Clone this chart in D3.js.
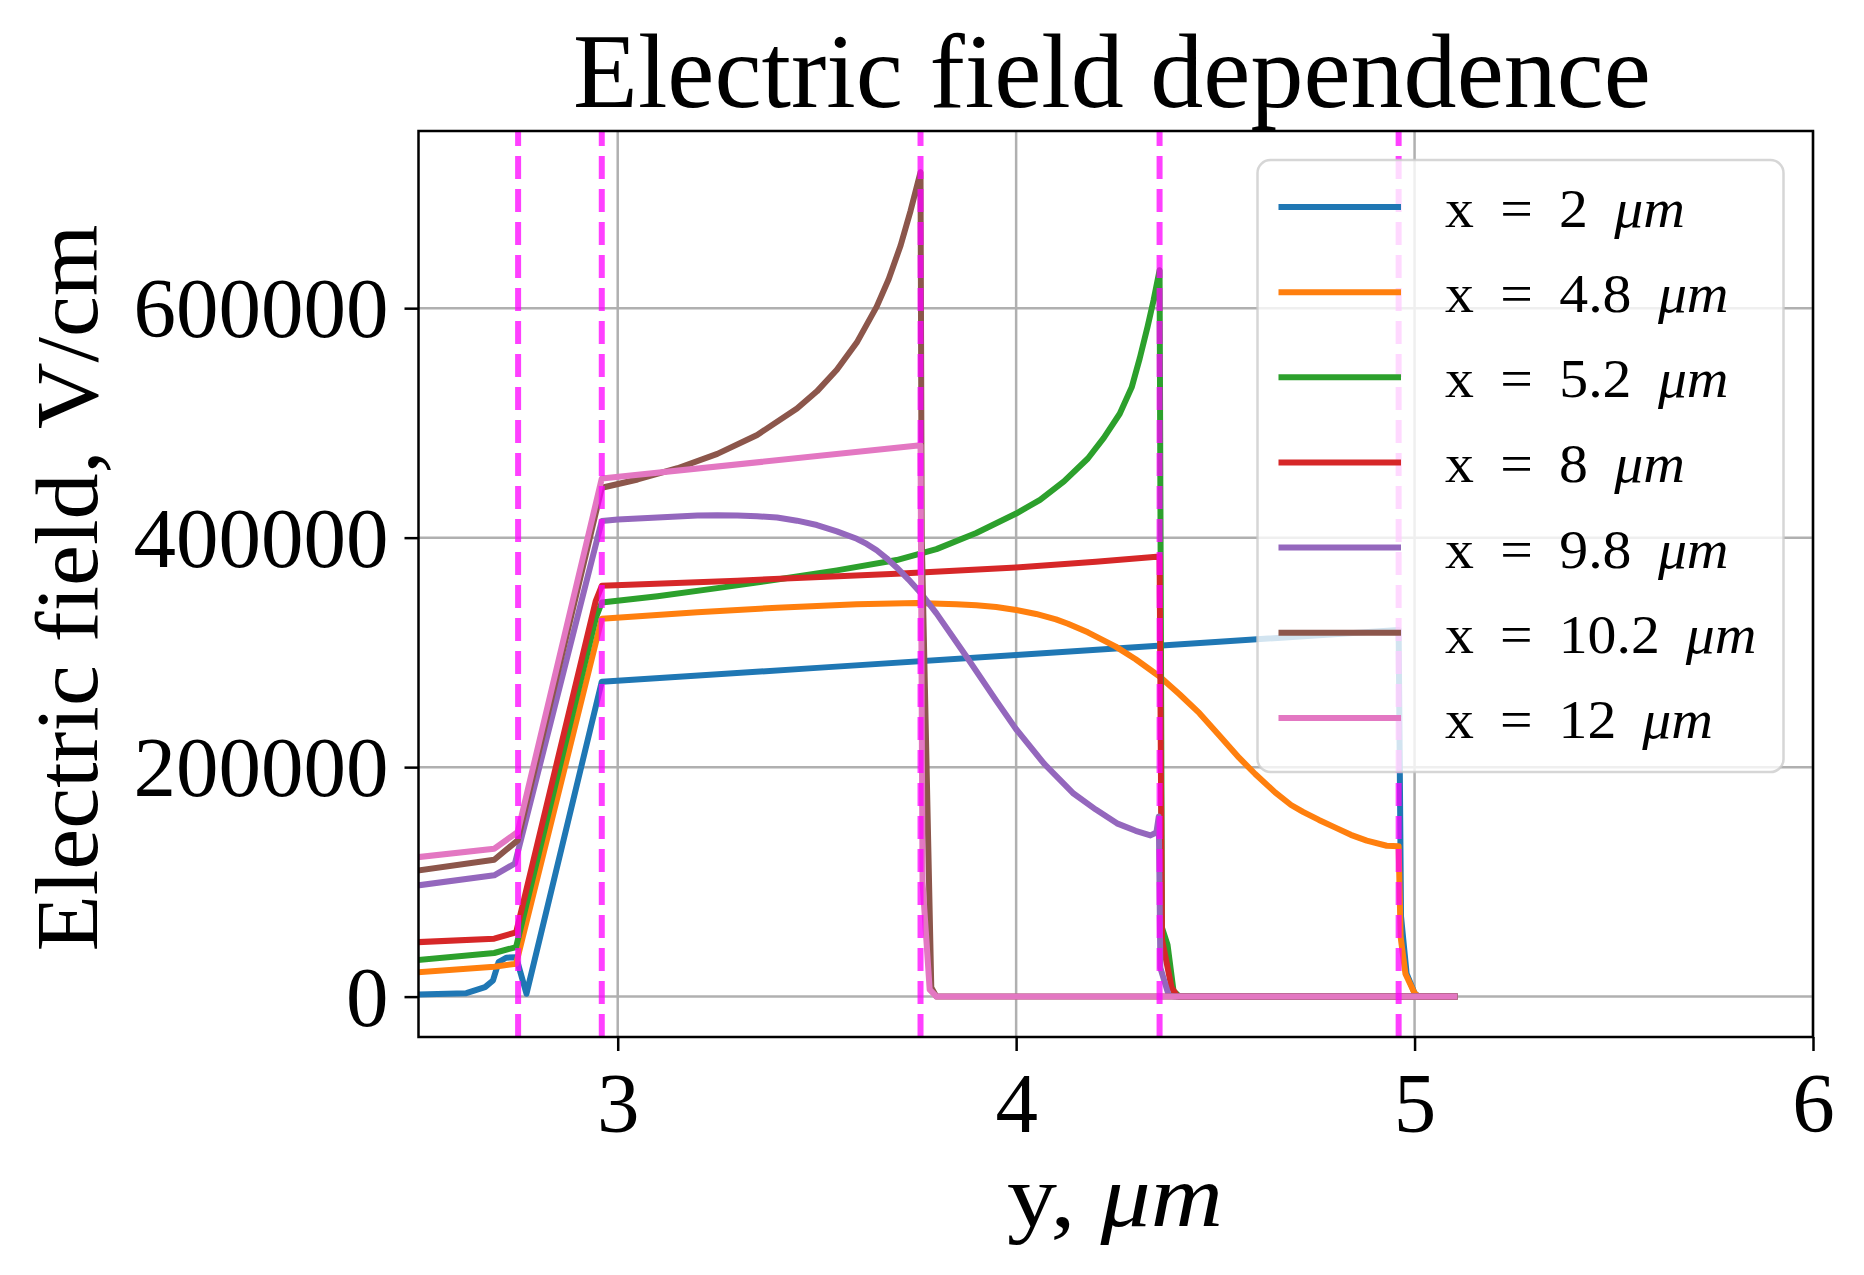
<!DOCTYPE html>
<html><head><meta charset="utf-8">
<script src="https://cdn.jsdelivr.net/npm/d3@7"></script>
<style>body{margin:0;background:#fff}</style>
</head><body>
<svg id="chart" width="1864" height="1275" xmlns="http://www.w3.org/2000/svg"></svg>
<script>
// ---------------- data ----------------
const seriesLabels = ["2", "4.8", "5.2", "8", "9.8", "10.2", "12"];
const seriesColors = ["#1f77b4", "#ff7f0e", "#2ca02c", "#d62728", "#9467bd", "#8c564b", "#e377c2"];
const boundaries = [2.75, 2.96, 3.76, 4.36, 4.96];
const xTicks = [3, 4, 5, 6];
const yTicks = [0, 200000, 400000, 600000];

// [y (µm), E (V/cm)]
const fieldX2 = [[2.5,1800],[2.62,3000],[2.667,8300],[2.687,14100],[2.701,30000],[2.72,33900],[2.745,34400],[2.771,2500],[2.96,274500],[3.5,286500],[4.0,297800],[4.5,309000],[4.96,319500],[4.966,70000],[4.98,20000],[5.0,3000],[5.01,0],[5.1,0]];
const fieldX48 = [[2.5,21300],[2.69,26000],[2.745,28700],[2.96,329400],[3.2,335000],[3.4,339000],[3.6,342000],[3.75,343000],[3.85,342000],[3.9,341000],[3.95,339500],[4.0,337000],[4.05,333500],[4.1,328800],[4.13,325000],[4.18,317500],[4.25,305000],[4.3,294000],[4.36,279000],[4.41,263500],[4.46,247000],[4.51,227500],[4.56,208000],[4.6,194000],[4.65,178000],[4.69,167000],[4.72,161000],[4.76,154000],[4.8,147500],[4.84,141000],[4.88,136000],[4.93,131500],[4.96,131000],[4.965,52000],[4.977,20000],[5.0,3000],[5.01,0],[5.1,0]];
const fieldX52 = [[2.5,32000],[2.69,38000],[2.745,43200],[2.945,330000],[2.96,343500],[3.1,349000],[3.25,356000],[3.4,363500],[3.55,371500],[3.7,380500],[3.8,390000],[3.9,404000],[4.0,421000],[4.06,433000],[4.12,449000],[4.18,469000],[4.22,487000],[4.26,508000],[4.29,531000],[4.31,556000],[4.33,584000],[4.345,607000],[4.36,633000],[4.366,60000],[4.38,45000],[4.395,5000],[4.41,0],[5.1,0]];
const fieldX8 = [[2.5,47500],[2.69,50500],[2.745,56000],[2.945,345000],[2.96,358000],[3.3,362500],[3.7,368500],[4.0,374000],[4.2,379000],[4.36,383500],[4.366,50000],[4.39,8000],[4.405,0],[5.1,0]];
const fieldX98 = [[2.5,97000],[2.69,105700],[2.742,116000],[2.96,414500],[3.0,415800],[3.05,416700],[3.1,417500],[3.15,418500],[3.2,419200],[3.25,419500],[3.3,419400],[3.35,418700],[3.4,417500],[3.45,414800],[3.5,411000],[3.55,405500],[3.6,399000],[3.625,394500],[3.65,389000],[3.675,382000],[3.7,374000],[3.73,363500],[3.76,352000],[3.8,334000],[3.876,296000],[3.95,258000],[4.0,233000],[4.07,203000],[4.144,177000],[4.2,163000],[4.253,151000],[4.3,144500],[4.337,140500],[4.352,143000],[4.358,157000],[4.362,25000],[4.383,1000],[4.4,0],[5.1,0]];
const fieldX102 = [[2.5,110000],[2.69,119300],[2.749,136200],[2.96,443500],[3.05,450700],[3.15,460500],[3.25,473000],[3.35,489500],[3.45,512500],[3.5,527500],[3.55,546300],[3.6,570000],[3.65,601300],[3.68,625200],[3.71,654600],[3.735,684800],[3.76,718500],[3.763,400000],[3.787,8000],[3.8,0],[5.1,0]];
const fieldX12 = [[2.5,121600],[2.69,128900],[2.749,143400],[2.96,451500],[3.76,480500],[3.765,100000],[3.783,6000],[3.8,0],[5.1,0]];

const seriesData = [fieldX2, fieldX48, fieldX52, fieldX8, fieldX98, fieldX102, fieldX12];

// ---------------- layout ----------------
const L = 418.5, R = 1813, T = 131, B = 1037;
const FONT = "'Liberation Serif', 'DejaVu Serif', serif";
const LW = 6;
const svg = d3.select("#chart");

const x = d3.scaleLinear().domain([2.5, 6]).range([L, R]);
const y = d3.scaleLinear().domain([-35200, 754400]).range([B, T]);

svg.append("rect").attr("width", 1864).attr("height", 1275).attr("fill", "#fff");

svg.append("defs").append("clipPath").attr("id", "plotclip")
  .append("rect").attr("x", L).attr("y", T).attr("width", R - L).attr("height", B - T);

// grid
const grid = svg.append("g");
grid.selectAll("line.gx").data(xTicks).join("line")
  .attr("x1", d => x(d)).attr("x2", d => x(d)).attr("y1", T).attr("y2", B)
  .attr("stroke", "#b0b0b0").attr("stroke-width", 2.5);
grid.selectAll("line.gy").data(yTicks).join("line")
  .attr("y1", d => y(d)).attr("y2", d => y(d)).attr("x1", L).attr("x2", R)
  .attr("stroke", "#b0b0b0").attr("stroke-width", 2.5);

// data lines
const line = d3.line().x(d => x(d[0])).y(d => y(d[1]));
const plot = svg.append("g").attr("clip-path", "url(#plotclip)");
seriesData.forEach((s, i) => {
  plot.append("path").attr("d", line(s)).attr("fill", "none")
    .attr("stroke", seriesColors[i]).attr("stroke-width", LW)
    .attr("stroke-linejoin", "round").attr("stroke-linecap", "square");
});

// boundary lines
plot.selectAll("line.bd").data(boundaries).join("line")
  .attr("x1", d => x(d)).attr("x2", d => x(d)).attr("y1", B).attr("y2", T)
  .attr("stroke", "magenta").attr("stroke-opacity", 0.75).attr("stroke-width", 6)
  .attr("stroke-dasharray", "23 10");

// spines
svg.append("rect").attr("x", L).attr("y", T).attr("width", R - L).attr("height", B - T)
  .attr("fill", "none").attr("stroke", "#000").attr("stroke-width", 2.5);

// axes (ticks + labels) via d3 axis
const xAxis = svg.append("g").attr("transform", `translate(0,${B})`)
  .call(d3.axisBottom(x).tickValues(xTicks).tickSize(14).tickPadding(0).tickFormat(d3.format("d")));
const yAxis = svg.append("g").attr("transform", `translate(${L},0)`)
  .call(d3.axisLeft(y).tickValues(yTicks).tickSize(14).tickPadding(0).tickFormat(d3.format("d")));
[xAxis, yAxis].forEach(a => {
  a.select(".domain").remove();
  a.selectAll(".tick line").attr("stroke", "#000").attr("stroke-width", 2.5);
  a.selectAll(".tick text").attr("font-family", FONT).attr("font-size", 85).attr("fill", "#000");
});
xAxis.selectAll(".tick text").attr("dy", null).attr("y", 95);
yAxis.selectAll(".tick text").attr("dy", null).attr("x", -30).attr("y", 28.5).attr("text-anchor", "end");

// helper: fit text horizontally
function fitted(sel, cx, cy, target, extra) {
  const w = sel.node().getComputedTextLength();
  const k = target / w;
  sel.attr("transform", `translate(${cx},${cy}) ${extra || ""} scale(${k},1)`);
}

// title
const title = svg.append("text").attr("x", 0).attr("y", 0).attr("text-anchor", "middle")
  .attr("font-family", FONT).attr("font-size", 106).attr("fill", "#000")
  .text("Electric field dependence");
fitted(title, 1112, 107, 1078);

// x label
const xl = svg.append("text").attr("x", 0).attr("y", 0).attr("text-anchor", "middle")
  .attr("font-family", FONT).attr("font-size", 88).attr("fill", "#000");
xl.append("tspan").text("y, ");
xl.append("tspan").attr("font-style", "italic").text("\u03BCm");
fitted(xl, 1115, 1226, 216);

// y label
const yl = svg.append("text").attr("x", 0).attr("y", 0).attr("text-anchor", "middle")
  .attr("font-family", FONT).attr("font-size", 89).attr("fill", "#000")
  .text("Electric field, V/cm");
fitted(yl, 97, 588, 727, "rotate(-90)");

// legend
const lg = svg.append("g");
lg.append("rect").attr("x", 1257.5).attr("y", 160).attr("width", 526).attr("height", 612)
  .attr("rx", 13).attr("fill", "#fff").attr("fill-opacity", 0.8)
  .attr("stroke", "#cccccc").attr("stroke-opacity", 0.8).attr("stroke-width", 2.5);
const KX = 1.07;
seriesLabels.forEach((lab, i) => {
  const ry = 207 + i * 85.15;
  lg.append("line").attr("x1", 1278.5).attr("x2", 1401).attr("y1", ry).attr("y2", ry)
    .attr("stroke", seriesColors[i]).attr("stroke-width", LW);
  const t = lg.append("text").attr("x", 0).attr("y", 0)
    .attr("transform", `translate(1445,${ry + 20}) scale(${KX},1)`)
    .attr("font-family", FONT).attr("font-size", 54).attr("fill", "#000");
  t.append("tspan").text("x = " + lab + " ");
  t.append("tspan").attr("font-style", "italic").text("\u03BCm");
  const num = lab.split("").reduce((a, c) => a + (c === "." ? 0.278 : 0.5), 0);
  const target = 56 * (0.528 + 0.333 + 0.778 + 0.333 + num + 0.333 + 0.603 + 0.878);
  const w0 = t.node().getComputedTextLength();
  t.attr("word-spacing", Math.max(0, (target / KX - w0) / 3));
});
</script>
</body></html>
